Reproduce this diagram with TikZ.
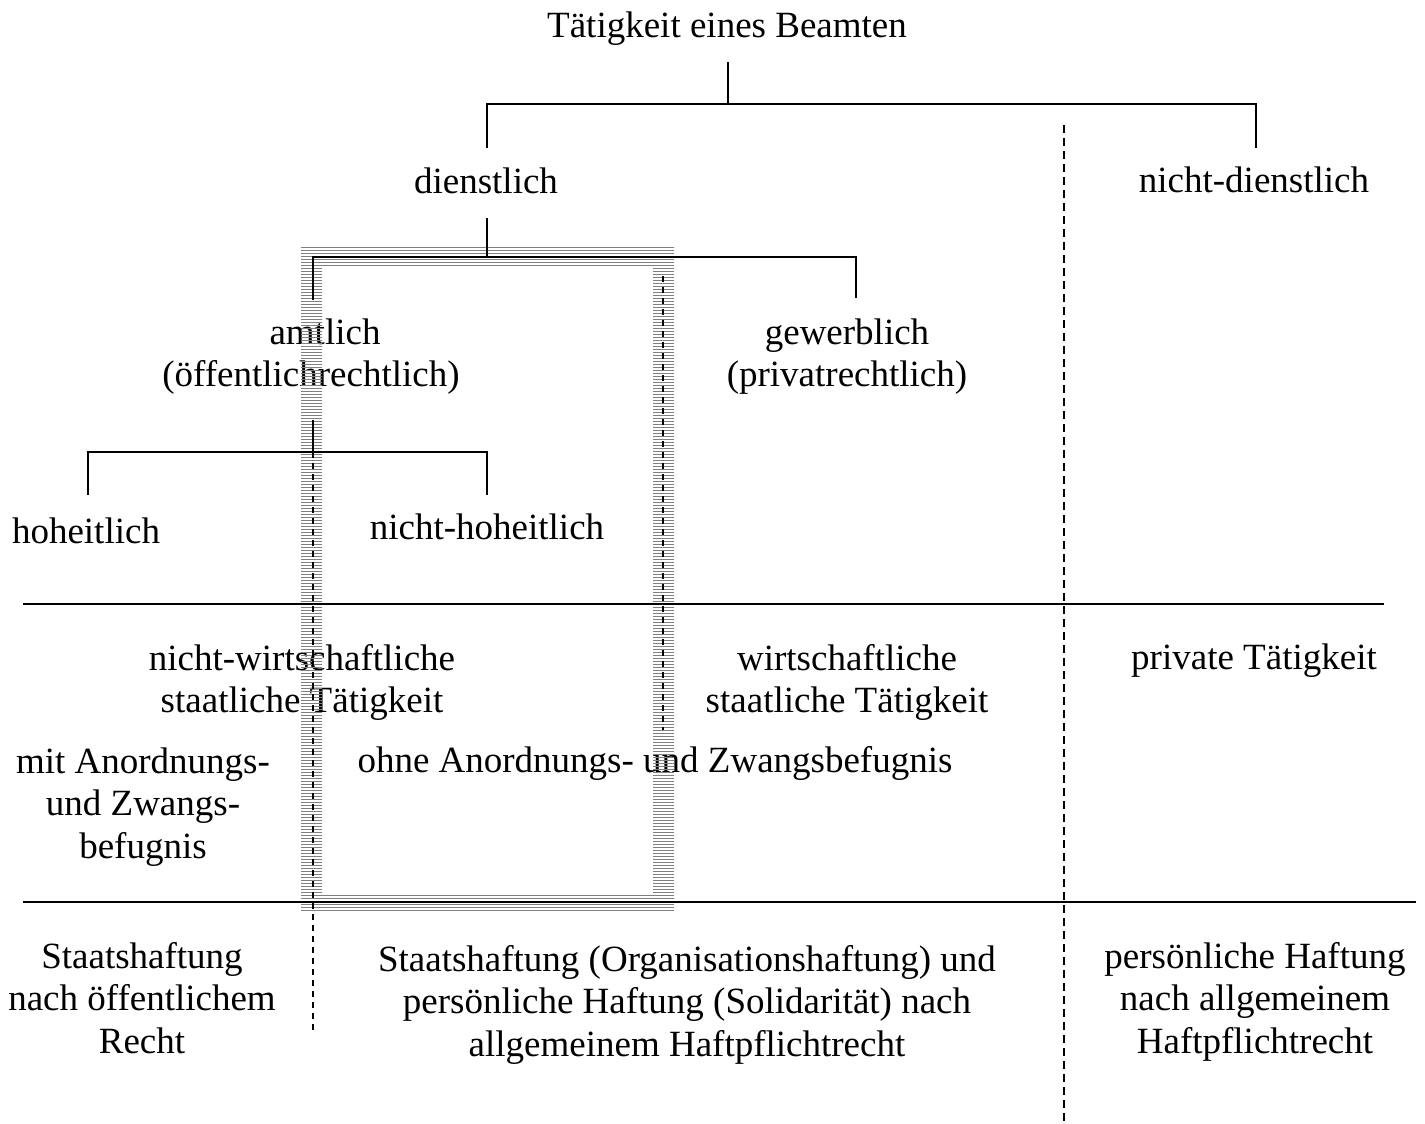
\documentclass[tikz,border=0pt]{standalone}
\usepackage{fontspec}
\setmainfont{Liberation Serif}
\usetikzlibrary{patterns}
\begin{document}
\begin{tikzpicture}[x=1pt,y=-1pt,
  lbl/.style={inner sep=0pt,anchor=base,align=center,font=\fontsize{37}{42.5}\selectfont},
  tree/.style={line width=1.7pt,line cap=butt},
  sep/.style={line width=1.7pt},
  dsh/.style={line width=1.6pt,dash pattern=on 8pt off 5pt},
  dshs/.style={line width=1.6pt,dash pattern=on 6pt off 5pt}]
\useasboundingbox (0,0) rectangle (1425,1124);
% texts (base = baseline of last line)
\node[lbl] (top) at (727,38) {Tätigkeit eines Beamten};
\node[lbl] (dienst) at (486,193) {dienstlich};
\node[lbl] (ndienst) at (1254,192) {nicht-dienstlich};
\node[lbl] (amt) at (311,386.5) {\hspace*{28pt}amtlich\\(öffentlichrechtlich)};
\node[lbl] (gew) at (847,386.5) {gewerblich\\(privatrechtlich)};
\node[lbl] (hoh) at (86,543) {hoheitlich};
\node[lbl] (nhoh) at (487,539) {nicht-hoheitlich};
\node[lbl] (nws) at (302,712.5) {nicht-wirtschaftliche\\staatliche Tätigkeit};
\node[lbl] (ws) at (847,712.5) {wirtschaftliche\\staatliche Tätigkeit};
\node[lbl] (priv) at (1254,669) {private Tätigkeit};
\node[lbl] (mit) at (143,858) {mit Anordnungs-\\und Zwangs-\\befugnis};
\node[lbl] (ohne) at (655,772) {ohne Anordnungs- und Zwangsbefugnis};
\node[lbl] (h1) at (142,1053) {Staatshaftung\\nach öffentlichem\\Recht};
\node[lbl] (h2) at (687,1056) {Staatshaftung (Organisationshaftung) und\\persönliche Haftung (Solidarität) nach\\allgemeinem Haftpflichtrecht};
\node[lbl] (h3) at (1255,1053) {persönliche Haftung\\nach allgemeinem\\Haftpflichtrecht};
% hatched frame
\fill[pattern=horizontal lines,pattern color=gray,even odd rule]
  (301,247) rectangle (674,912) (322,266) rectangle (653,893);
% coordinates for tree
\coordinate (t0) at (728,62);
\coordinate (t1) at (728,104);
\coordinate (tl) at (487,104);
\coordinate (tr) at (1256,104);
\coordinate (tld) at (487,148);
\coordinate (trd) at (1256,148);
\coordinate (d0) at (487,218);
\coordinate (d1) at (487,257);
\coordinate (dl) at (313,257);
\coordinate (dr) at (856,257);
\coordinate (dld) at (313,300);
\coordinate (drd) at (856,298);
\coordinate (a0) at (313,420);
\coordinate (a1) at (313,452);
\coordinate (al) at (88,452);
\coordinate (ar) at (487,452);
\coordinate (ald) at (88,495);
\coordinate (ard) at (487,495);
\coordinate (a2) at (313,1034);
\coordinate (r0) at (663,276);
\coordinate (r1) at (663,730);
\coordinate (v0) at (1064,125);
\coordinate (v1) at (1064,1124);
\coordinate (s1l) at (23,604);
\coordinate (s1r) at (1384,604);
\coordinate (s2l) at (23,902);
\coordinate (s2r) at (1416,902);
% tree lines
\draw[tree] (t0) -- (t1);
\draw[tree] (tld) -- (tl) -- (tr) -- (trd);
\draw[tree] (d0) -- (d1);
\draw[tree] (dld) -- (dl) -- (dr) -- (drd);
\draw[tree] (a0) -- (a1);
\draw[tree] (ald) -- (al) -- (ar) -- (ard);
\draw[dshs] (a1) -- (a2);
\draw[dshs] (r0) -- (r1);
\draw[dsh] (v0) -- (v1);
\draw[sep] (s1l) -- (s1r);
\draw[sep] (s2l) -- (s2r);
\end{tikzpicture}
\end{document}
